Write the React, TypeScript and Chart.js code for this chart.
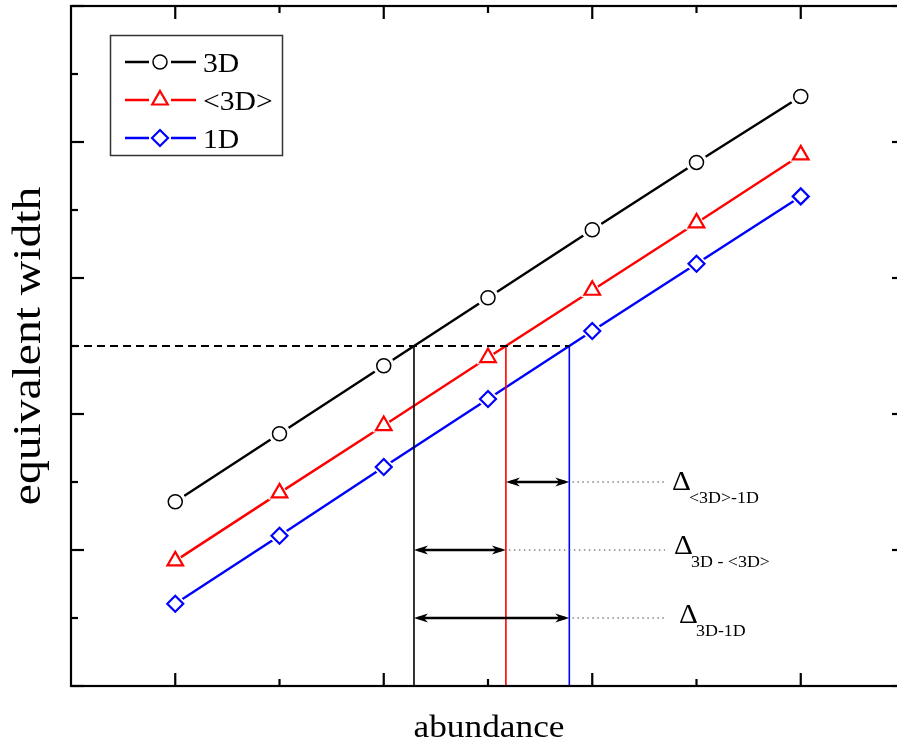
import { useEffect, useRef } from "react";
import { Chart, registerables } from "chart.js";

Chart.register(...registerables);

// abundance steps and equivalent widths for each model
const abundance = [1, 2, 3, 4, 5, 6, 7];
const width3D = [2.71, 3.71, 4.71, 5.71, 6.71, 7.7, 8.67];
const widthMean3D = [1.84, 2.84, 3.83, 4.83, 5.82, 6.81, 7.81];
const width1D = [1.21, 2.21, 3.22, 4.22, 5.22, 6.21, 7.2];
const seriesNames = ["3D", "<3D>", "1D"];

// axis ranges and (unlabelled) tick positions
const xRange = [0, 8];
const yRange = [0, 10];
const xMajorTicks = [1, 3, 5, 7];
const xMinorTicks = [2, 4, 6];
const yMajorTicks = [0, 2, 4, 6, 8, 10];
const yMinorTicks = [1, 3, 5, 7, 9];

// reference equivalent width and the abundance differences it yields
const referenceWidth = 5;
const arrowLevels = [3, 2, 1];
const arrowPairs = [
  [1, 2],
  [0, 1],
  [0, 2],
];
const deltaSubscripts = ["<3D>-1D", "3D - <3D>", "3D-1D"];

const xTitle = "abundance";
const yTitle = "equivalent width";

const CANVAS_W = 912;
const CANVAS_H = 744;
const SERIF = '"Liberation Serif", "Times New Roman", serif';

const seriesStyles = [
  { color: "#000000", pointStyle: "circle", radius: 7, borderWidth: 1.5 },
  { color: "#ff0000", pointStyle: "triangle", radius: 9, borderWidth: 2.2 },
  { color: "#0000ff", pointStyle: "rectRot", radius: 8, borderWidth: 2.2 },
];

const seriesValues = [width3D, widthMean3D, width1D];

// abundance at which a piecewise-linear curve reaches a given width
function crossing(xs: number[], ys: number[], level: number): number {
  for (let i = 0; i < ys.length - 1; i++) {
    const a = ys[i];
    const b = ys[i + 1];
    if ((a - level) * (b - level) <= 0 && a !== b) {
      return xs[i] + ((level - a) / (b - a)) * (xs[i + 1] - xs[i]);
    }
  }
  return NaN;
}

// text with an optional stretch along its own writing direction
function drawText(
  ctx: CanvasRenderingContext2D,
  text: string,
  x: number,
  y: number,
  size: number,
  opts: { align?: CanvasTextAlign; sx?: number; rotate?: boolean; color?: string } = {}
) {
  ctx.save();
  ctx.translate(x, y);
  if (opts.rotate) ctx.rotate(-Math.PI / 2);
  ctx.scale(opts.sx ?? 1, 1);
  ctx.font = `${size}px ${SERIF}`;
  ctx.textAlign = opts.align ?? "left";
  ctx.textBaseline = "alphabetic";
  ctx.fillStyle = opts.color ?? "#000";
  ctx.fillText(text, 0, 0);
  ctx.restore();
}

function drawMarker(ctx: CanvasRenderingContext2D, style: string, x: number, y: number, r: number) {
  ctx.beginPath();
  if (style === "circle") {
    ctx.arc(x, y, r, 0, Math.PI * 2);
  } else if (style === "triangle") {
    ctx.moveTo(x, y - r);
    ctx.lineTo(x + r * Math.sin((2 * Math.PI) / 3), y - r * Math.cos((2 * Math.PI) / 3));
    ctx.lineTo(x + r * Math.sin((4 * Math.PI) / 3), y - r * Math.cos((4 * Math.PI) / 3));
  } else {
    ctx.moveTo(x - r, y);
    ctx.lineTo(x, y - r);
    ctx.lineTo(x + r, y);
    ctx.lineTo(x, y + r);
  }
  ctx.closePath();
}

function arrowHead(ctx: CanvasRenderingContext2D, x: number, y: number, dir: number) {
  ctx.beginPath();
  ctx.moveTo(x, y);
  ctx.lineTo(x + dir * 14, y - 4.5);
  ctx.lineTo(x + dir * 10, y);
  ctx.lineTo(x + dir * 14, y + 4.5);
  ctx.closePath();
  ctx.fill();
}

const decorations = {
  id: "decorations",
  afterDatasetsDraw(chart: any) {
    const ctx: CanvasRenderingContext2D = chart.ctx;
    const xs = chart.scales.x;
    const ys = chart.scales.y;
    const { left, right, top, bottom } = chart.chartArea;
    const px = (v: number) => xs.getPixelForValue(v);
    const py = (v: number) => ys.getPixelForValue(v);

    ctx.save();

    // crossings of the reference width
    const cross = seriesValues.map((vals) => px(crossing(abundance, vals, referenceWidth)));
    const yRef = py(referenceWidth);

    ctx.lineWidth = 1.6;
    cross.forEach((cx, i) => {
      ctx.strokeStyle = seriesStyles[i].color;
      ctx.beginPath();
      ctx.moveTo(cx, yRef);
      ctx.lineTo(cx, bottom);
      ctx.stroke();
    });

    ctx.strokeStyle = "#000";
    ctx.lineWidth = 2;
    ctx.setLineDash([8, 5]);
    ctx.beginPath();
    ctx.moveTo(left, yRef);
    ctx.lineTo(Math.max(...cross), yRef);
    ctx.stroke();
    ctx.setLineDash([]);

    // difference arrows with dotted leaders and labels
    const leaderEnd = 665;
    const nudges = [
      [7, 8],
      [9, 4],
      [14, 5],
    ];
    arrowLevels.forEach((lvl, k) => {
      const y = py(lvl);
      const [a, b] = arrowPairs[k];
      const x1 = Math.min(cross[a], cross[b]);
      const x2 = Math.max(cross[a], cross[b]);
      ctx.strokeStyle = "#000";
      ctx.fillStyle = "#000";
      ctx.lineWidth = 2.4;
      ctx.beginPath();
      ctx.moveTo(x1 + 4, y);
      ctx.lineTo(x2 - 4, y);
      ctx.stroke();
      arrowHead(ctx, x1, y, 1);
      arrowHead(ctx, x2, y, -1);

      ctx.strokeStyle = "#444";
      ctx.lineWidth = 1;
      ctx.setLineDash([1.5, 3.5]);
      ctx.beginPath();
      ctx.moveTo(x2 + 3, y);
      ctx.lineTo(leaderEnd, y);
      ctx.stroke();
      ctx.setLineDash([]);

      const lx = leaderEnd + nudges[k][0];
      const ly = y + nudges[k][1];
      drawText(ctx, "Δ", lx, ly, 28, { sx: 1.05 });
      drawText(ctx, deltaSubscripts[k], lx + 17, ly + 13, 16, { sx: 1.12 });
    });

    // frame and inward ticks
    ctx.strokeStyle = "#000";
    ctx.lineWidth = 2.2;
    ctx.strokeRect(left, top, right - left, bottom - top);
    const tick = (x1: number, y1: number, x2: number, y2: number) => {
      ctx.beginPath();
      ctx.moveTo(x1, y1);
      ctx.lineTo(x2, y2);
      ctx.stroke();
    };
    xMajorTicks.forEach((v) => {
      const x = px(v);
      tick(x, bottom, x, bottom - 13);
      tick(x, top, x, top + 13);
    });
    xMinorTicks.forEach((v) => {
      const x = px(v);
      tick(x, bottom, x, bottom - 7);
      tick(x, top, x, top + 7);
    });
    yMajorTicks.forEach((v) => {
      const y = py(v);
      tick(left, y, left + 13, y);
      tick(right, y, right - 13, y);
    });
    yMinorTicks.forEach((v) => {
      const y = py(v);
      tick(left, y, left + 7, y);
      tick(right, y, right - 7, y);
    });

    // legend
    ctx.fillStyle = "#fff";
    ctx.fillRect(110.5, 35.5, 172, 120);
    ctx.strokeStyle = "#333";
    ctx.lineWidth = 1.5;
    ctx.strokeRect(110.5, 35.5, 172, 120);
    seriesNames.forEach((name, i) => {
      const st = seriesStyles[i];
      const y = 62 + i * 38;
      ctx.strokeStyle = st.color;
      ctx.lineWidth = 2.4;
      ctx.beginPath();
      ctx.moveTo(125, y);
      ctx.lineTo(149, y);
      ctx.moveTo(171, y);
      ctx.lineTo(196, y);
      ctx.stroke();
      drawMarker(ctx, st.pointStyle, 160, y, st.radius);
      ctx.fillStyle = "#fff";
      ctx.fill();
      ctx.lineWidth = st.borderWidth;
      ctx.stroke();
      drawText(ctx, name, 203, y + 10, 27, { sx: 1.1 });
    });

    // axis titles
    drawText(ctx, xTitle, (left + right) / 2 + 1, 737, 31, { align: "center", sx: 1.14 });
    drawText(ctx, yTitle, 40, (top + bottom) / 2, 39, { align: "center", sx: 1.22, rotate: true });

    ctx.restore();
  },
};

export default function App() {
  const canvasRef = useRef<HTMLCanvasElement | null>(null);

  useEffect(() => {
    const canvas = canvasRef.current;
    if (!canvas) return;

    const datasets: any[] = [];
    seriesValues.forEach((vals, i) => {
      const st = seriesStyles[i];
      const pts = abundance.map((a, j) => ({ x: a, y: vals[j] }));
      datasets.push({
        label: seriesNames[i],
        data: pts,
        borderColor: st.color,
        borderWidth: 2.4,
        pointRadius: 0,
        tension: 0,
        fill: false,
        order: 3,
      });
      datasets.push({
        label: seriesNames[i] + " gap",
        data: pts,
        showLine: false,
        pointStyle: st.pointStyle,
        pointRadius: st.radius + 3.5,
        pointBackgroundColor: "#fff",
        pointBorderColor: "#fff",
        pointBorderWidth: 1,
        order: 2,
      });
      datasets.push({
        label: seriesNames[i] + " marker",
        data: pts,
        showLine: false,
        pointStyle: st.pointStyle,
        pointRadius: st.radius,
        pointBackgroundColor: "#fff",
        pointBorderColor: st.color,
        pointBorderWidth: st.borderWidth,
        order: 1,
      });
    });

    const chart = new Chart(canvas, {
      type: "line",
      data: { datasets },
      options: {
        animation: false,
        responsive: false,
        devicePixelRatio: 1,
        layout: {
          autoPadding: false,
          padding: { left: 71, top: 6, right: CANVAS_W - 905, bottom: CANVAS_H - 686 },
        },
        scales: {
          x: { type: "linear", min: xRange[0], max: xRange[1], display: false },
          y: { type: "linear", min: yRange[0], max: yRange[1], display: false },
        },
        plugins: { legend: { display: false }, tooltip: { enabled: false } },
      },
      plugins: [decorations],
    } as any);

    return () => chart.destroy();
  }, []);

  return (
    <div
      style={{
        position: "fixed",
        left: 0,
        top: 0,
        width: 897,
        height: 744,
        overflow: "hidden",
        background: "#fff",
      }}
    >
      <canvas
        ref={canvasRef}
        width={CANVAS_W}
        height={CANVAS_H}
        style={{ display: "block", width: CANVAS_W, height: CANVAS_H }}
      />
    </div>
  );
}
